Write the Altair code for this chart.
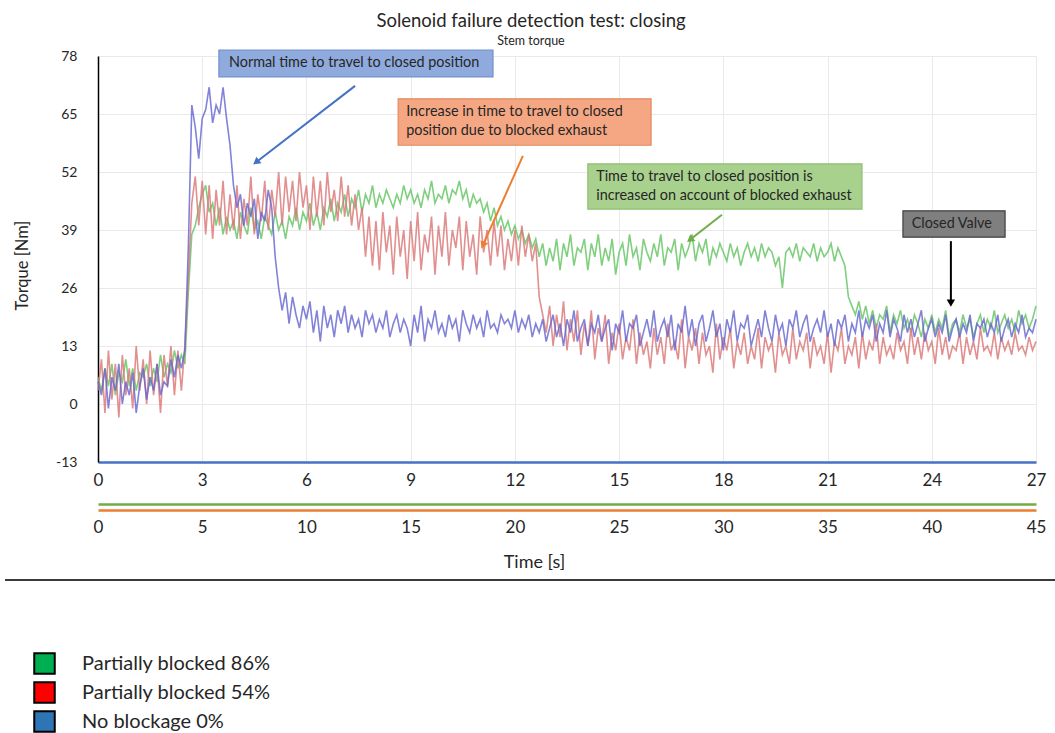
import math

import altair as alt
import pandas as pd

# ---- series -------------------------------------------------------------
SERIES = ["Partially blocked 86%", "Partially blocked 54%", "No blockage 0%"]
LINE_COLORS = ["#63C463", "#DA7676", "#6666D0"]
LEGEND_COLORS = ["#00B050", "#FF0000", "#2E75B6"]

# one torque reading every 0.1 s, 0 .. 27 s
time_s = [i / 10 for i in range(271)]

torque_86 = [
    6, 3, 8, 4, 9, 2, 7, 5, 10, 4,
    8, 3, 7, 6, 9, 4, 8, 5, 11, 6,
    9, 7, 12, 8, 11, 9, 25, 38, 40, 44,
    47, 49, 43, 45, 40, 44, 38, 42, 39, 41,
    37, 43, 40, 38, 44, 39, 41, 37, 42, 40,
    38, 43, 39, 41, 37, 42, 40, 44, 39, 43,
    41, 45, 40, 43, 39, 44, 42, 46, 41, 45,
    43, 47, 42, 46, 44, 48, 43, 47, 45, 49,
    44, 47, 45, 48, 46, 44, 47, 45, 49, 46,
    48, 45, 47, 44, 48, 46, 50, 45, 47, 46,
    49, 45, 48, 47, 50, 46, 48, 44, 47, 45,
    46, 43, 45, 41, 44, 40, 42, 39, 41, 38,
    40, 37, 39, 36, 38, 35, 37, 33, 36, 31,
    35, 32, 37, 30, 36, 33, 38, 31, 35, 34,
    37, 30, 36, 33, 38, 31, 35, 32, 37, 29,
    34, 36, 31, 38, 33, 35, 30, 37, 34, 32,
    36, 33, 38, 31, 35, 34, 37, 30, 36, 33,
    35, 38, 32, 36, 34, 37, 31, 35, 33, 36,
    34, 32, 36, 33, 35, 31, 34, 36, 33, 35,
    32, 36, 33, 35, 34, 31, 33, 26, 34, 35,
    33, 36, 32, 35, 34, 33, 36, 32, 35, 33,
    34, 36, 32, 35, 33, 31, 24, 22, 20, 23,
    19, 22, 18, 21, 17, 20, 19, 22, 16, 20,
    18, 21, 17, 19, 16, 20, 18, 15, 19, 17,
    20, 16, 19, 17, 21, 15, 18, 19, 16, 20,
    17, 19, 15, 18, 20, 16, 19, 17, 21, 16,
    18, 20, 17, 19, 16, 21, 18, 20, 17, 19, 22,
]

torque_54 = [
    3, 10, -2, 12, 1, 9, -3, 11, 2, 8,
    -1, 13, 3, 10, 0, 12, 2, 9, -2, 11,
    4, 13, 2, 12, 3, 13, 28, 45, 51, 40,
    50, 38, 49, 37, 48, 40, 50, 38, 47, 39,
    49, 37, 46, 40, 51, 38, 47, 41, 50, 39,
    48, 42, 52, 40, 51, 43, 50, 41, 52, 44,
    49, 39, 51, 42, 50, 40, 52, 43, 48, 41,
    51, 42, 49, 40, 47, 39, 44, 33, 42, 31,
    41, 30, 43, 34, 40, 29, 42, 33, 39, 28,
    41, 32, 43, 30, 38, 34, 42, 29, 40, 33,
    43, 31, 39, 35, 42, 30, 41, 33, 38, 29,
    42, 34, 39, 31, 41, 33, 40, 30, 37, 32,
    39, 31, 40, 33, 38, 32, 36, 24, 20, 16,
    22, 13, 20, 15, 23, 12, 19, 14, 21, 11,
    18, 13, 21, 10, 17, 14, 20, 9, 16, 12,
    18, 10, 15, 12, 19, 9, 16, 11, 14, 8,
    17, 11, 15, 9, 18, 12, 14, 10, 19, 8,
    15, 12, 17, 9, 16, 11, 13, 7, 18, 10,
    15, 12, 17, 8, 14, 11, 16, 9, 13, 10,
    17, 8, 15, 12, 14, 7, 16, 11, 13, 9,
    17, 10, 14, 12, 16, 8, 15, 11, 13, 9,
    16, 7, 14, 12, 17, 9, 13, 11, 15, 8,
    16, 10, 14, 12, 18, 9, 15, 11, 13, 10,
    16, 12, 14, 9, 17, 11, 15, 10, 16, 12,
    14, 9, 17, 11, 15, 10, 13, 12, 16, 9,
    15, 11, 14, 10, 17, 12, 13, 11, 16, 10,
    15, 12, 14, 11, 16, 12, 13, 11, 15, 12, 14,
]

torque_0 = [
    5, 2, 8, -1, 6, 3, 9, 0, 5, 2,
    7, -2, 4, 8, 1, 6, 3, 9, 2, 5,
    4, 10, 6, 11, 8, 12, 35, 67, 62, 55,
    64, 66, 71, 63, 67, 65, 71, 64, 58, 49,
    44, 47, 40, 45, 42, 46, 37, 43, 41, 48,
    44, 33, 26, 21, 25, 18, 24, 20, 17, 22,
    19, 23, 16, 21, 14, 22, 17, 20, 15, 21,
    18, 22, 16, 20, 17, 19, 15, 21, 18, 20,
    16, 19, 17, 21, 15, 18, 20, 16, 19, 17,
    13, 20, 16, 22, 14, 19, 17, 21, 16, 18,
    15, 20, 17, 19, 14, 21, 18, 16, 20, 17,
    19, 15, 21, 17, 18, 16, 20, 18, 19, 17,
    21, 16, 19, 17, 20, 15, 18, 16, 19, 14,
    17, 20, 15, 18, 13, 19, 16, 21, 14, 17,
    19, 13, 18, 16, 20, 14, 17, 19, 12, 18,
    16, 21, 14, 18, 17, 20, 13, 16, 19, 15,
    21, 14, 17, 19, 15, 20, 12, 18, 16, 22,
    15, 19, 13, 18, 20, 14, 17, 21, 15, 18,
    12, 19, 16, 21, 14, 18, 17, 20, 13, 16,
    19, 15, 21, 17, 14, 20, 16, 18, 13, 19,
    17, 21, 15, 18, 20, 14, 17, 19, 16, 21,
    15, 18, 13, 19, 17, 20, 14, 18, 16, 21,
    15, 19, 17, 20, 14, 18, 16, 21, 15, 19,
    17, 14, 20, 16, 19, 15, 18, 21, 14, 17,
    19, 15, 18, 16, 20, 14, 17, 19, 15, 18,
    16, 20, 14, 18, 17, 19, 15, 18, 16, 20,
    14, 17, 19, 15, 18, 16, 20, 15, 17, 16, 19,
]

# ---- callouts (time [s], torque [Nm]) ------------------------------------
note_text = [
    "Normal time to travel to closed position",
    "Increase in time to travel to closed\nposition due to blocked exhaust",
    "Time to travel to closed position is\nincreased on account of blocked exhaust",
    "Closed Valve",
]
note_t0 = [3.48, 8.64, 14.10, 23.17]
note_t1 = [11.37, 15.92, 21.99, 26.11]
note_top = [79.3, 68.4, 53.8, 43.3]
note_bottom = [73.3, 58.0, 43.7, 37.4]
# anchor of the first text line in each box
note_label_t = [3.77, 8.87, 14.34, 23.42]
note_label_v = [76.4, 65.4, 50.9, 40.3]
note_fill = ["#8FAADC", "#F5A783", "#A9D18E", "#7F7F7F"]
note_edge = ["#7391CC", "#E38A5E", "#8DBD6F", "#404040"]

arrow_t0 = [7.40, 12.23, 17.96, 24.55]
arrow_v0 = [71.3, 55.6, 42.4, 36.5]
arrow_t1 = [4.55, 11.08, 17.04, 24.55]
arrow_v1 = [54.2, 35.6, 36.8, 22.6]
arrow_color = ["#4472C4", "#ED7D31", "#70AD47", "#000000"]

TIME_TICKS = list(range(0, 28, 3))
TIME2_TICKS = list(range(0, 46, 5))
TORQUE_TICKS = [-13, 0, 13, 26, 39, 52, 65, 78]

W, H = 938, 406
FONT = "Lato"
TEXT = "#262626"

# ---- tables ---------------------------------------------------------------
series_frames = {}
for name, values in zip(SERIES, [torque_86, torque_54, torque_0]):
    series_frames[name] = pd.DataFrame({"time": time_s, "torque": values})

notes_df = pd.DataFrame({
    "t0": note_t0, "t1": note_t1, "top": note_top, "bottom": note_bottom,
    "lt": note_label_t, "lv": note_label_v, "text": note_text,
    "fill": note_fill, "edge": note_edge,
})

# arrowhead rotation follows the on-screen direction of each arrow
sx = W / (TIME_TICKS[-1] - TIME_TICKS[0])
sy = H / (TORQUE_TICKS[-1] - TORQUE_TICKS[0])
angles = []
for a, b, c, d in zip(arrow_t0, arrow_v0, arrow_t1, arrow_v1):
    dx = (c - a) * sx
    dy = -(d - b) * sy
    angles.append((math.degrees(math.atan2(dx, -dy)) + 360) % 360)
arrows_df = pd.DataFrame({
    "t0": arrow_t0, "v0": arrow_v0, "t1": arrow_t1, "v1": arrow_v1,
    "color": arrow_color, "angle": angles,
})

# ---- scales & axes --------------------------------------------------------
x_scale = alt.Scale(domain=[0, 27], nice=False, zero=False)
y_scale = alt.Scale(domain=[-13, 78], nice=False, zero=False)

x_axis = alt.Axis(
    values=TIME_TICKS, title=None, ticks=False, labelFlush=False,
    labelFontSize=17, labelPadding=10, labelColor=TEXT, labelFont=FONT,
    domainColor="#4472C4", domainWidth=2.5,
    gridColor="#E9E9E9", gridWidth=1,
)
y_axis = alt.Axis(
    values=TORQUE_TICKS, title="Torque [Nm]", ticks=False,
    labelExpr="'' + datum.value",
    labelFontSize=14, labelPadding=21, labelColor=TEXT, labelFont=FONT,
    domainColor="#000000", domainWidth=1.5,
    gridColor="#E9E9E9", gridWidth=1,
    titleFont=FONT, titleFontSize=16.5, titleFontWeight="normal", titleColor=TEXT,
    titleX=-76, titleY=209, titleBaseline="middle",
)


def X(field):
    return alt.X(field, type="quantitative", scale=x_scale, axis=x_axis)


def Y(field):
    return alt.Y(field, type="quantitative", scale=y_scale, axis=y_axis)


# ---- layers ---------------------------------------------------------------
line_layers = [
    alt.Chart(series_frames[name])
    .mark_line(strokeWidth=1.6, opacity=0.82, color=colour)
    .encode(x=X("time"), y=Y("torque"))
    for name, colour in zip(SERIES, LINE_COLORS)
]

legend_layer = (
    alt.Chart(pd.DataFrame({"series": SERIES}))
    .mark_square(opacity=0, stroke="#000000", strokeWidth=2)
    .encode(
        x=alt.value(0),
        y=alt.value(0),
        fill=alt.Fill(
            "series:N",
            scale=alt.Scale(domain=SERIES, range=LEGEND_COLORS),
            legend=alt.Legend(
                orient="none", legendX=-65, legendY=596, title=None,
                direction="vertical", symbolType="square", symbolSize=420,
                symbolStrokeColor="#000000", symbolStrokeWidth=2,
                symbolOpacity=1, labelFontSize=20, labelColor=TEXT,
                labelFont=FONT, labelOffset=26, labelLimit=400,
                rowPadding=0, padding=0,
            ),
        ),
    )
)

boxes = (
    alt.Chart(notes_df)
    .mark_rect()
    .encode(x=X("t0"), x2="t1", y=Y("top"), y2="bottom",
            color=alt.Color("fill:N", scale=None))
)
box_edges = (
    alt.Chart(notes_df)
    .mark_rect(filled=False, strokeWidth=1.2)
    .encode(x=X("t0"), x2="t1", y=Y("top"), y2="bottom",
            color=alt.Color("edge:N", scale=None))
)
box_text = (
    alt.Chart(notes_df)
    .mark_text(align="left", baseline="middle", fontSize=14.4, font=FONT,
               color=TEXT, lineBreak="\n", lineHeight=19)
    .encode(x=X("lt"), y=Y("lv"), text="text:N")
)
arrow_shafts = (
    alt.Chart(arrows_df)
    .mark_rule(strokeWidth=2)
    .encode(x=X("t0"), y=Y("v0"), x2="t1", y2="v1",
            color=alt.Color("color:N", scale=None))
)
arrow_heads = (
    alt.Chart(arrows_df)
    .mark_point(shape="triangle-up", filled=True, size=70, opacity=1)
    .encode(x=X("t1"), y=Y("v1"), angle=alt.Angle("angle:Q", scale=None),
            color=alt.Color("color:N", scale=None))
)

# separator between plot and key
separator = (
    alt.Chart(pd.DataFrame({"k": [0]}))
    .mark_rule(color="#3A3A3A", strokeWidth=2)
    .encode(x=alt.value(-93), x2=alt.value(957), y=alt.value(524))
)

main = alt.layer(
    *line_layers, boxes, box_edges, box_text, arrow_shafts, arrow_heads,
    legend_layer, separator,
)

# secondary time axes (0 .. 45 s) drawn beneath the primary one
sec_df = pd.DataFrame({"s": [0, 45]})
sec_scale = alt.Scale(domain=[0, 45], nice=False, zero=False)
axis_green = (
    alt.Chart(sec_df)
    .mark_point(opacity=0)
    .encode(
        x=alt.X("s:Q", scale=sec_scale, axis=alt.Axis(
            orient="bottom", offset=42, labels=False, ticks=False, grid=False,
            title=None, domainColor="#70AD47", domainWidth=2.5)),
        y=alt.value(0),
    )
)
axis_orange = (
    alt.Chart(sec_df)
    .mark_point(opacity=0)
    .encode(
        x=alt.X("s:Q", scale=sec_scale, axis=alt.Axis(
            orient="bottom", offset=48, values=TIME2_TICKS, ticks=False,
            grid=False, labelFlush=False, labelFontSize=17, labelPadding=9,
            labelColor=TEXT, labelFont=FONT,
            domainColor="#ED7D31", domainWidth=2.5,
            title="Time [s]", titleFont=FONT, titleFontSize=18,
            titleFontWeight="normal", titleColor=TEXT, titlePadding=18,
            titleX=436, titleAlign="center")),
        y=alt.value(0),
    )
)

chart = (
    alt.layer(main, axis_green, axis_orange)
    .resolve_scale(x="independent")
    .properties(
        width=W,
        height=H,
        autosize=alt.AutoSizeParams(type="none"),
        padding={"left": 98, "top": 56, "right": 19, "bottom": 271},
        title=alt.TitleParams(
            text="Solenoid failure detection test: closing",
            subtitle="Stem torque",
            anchor="middle", frame="group", dx=-36, offset=2,
            font=FONT, fontSize=18.5, fontWeight="normal", color=TEXT,
            subtitleFont=FONT, subtitleFontSize=12.5, subtitleColor=TEXT,
            subtitlePadding=4,
        ),
    )
    .configure(background="#FFFFFF")
    .configure_view(stroke="transparent")
)

chart.save("out.html", embed_options={"renderer": "svg", "actions": False})
